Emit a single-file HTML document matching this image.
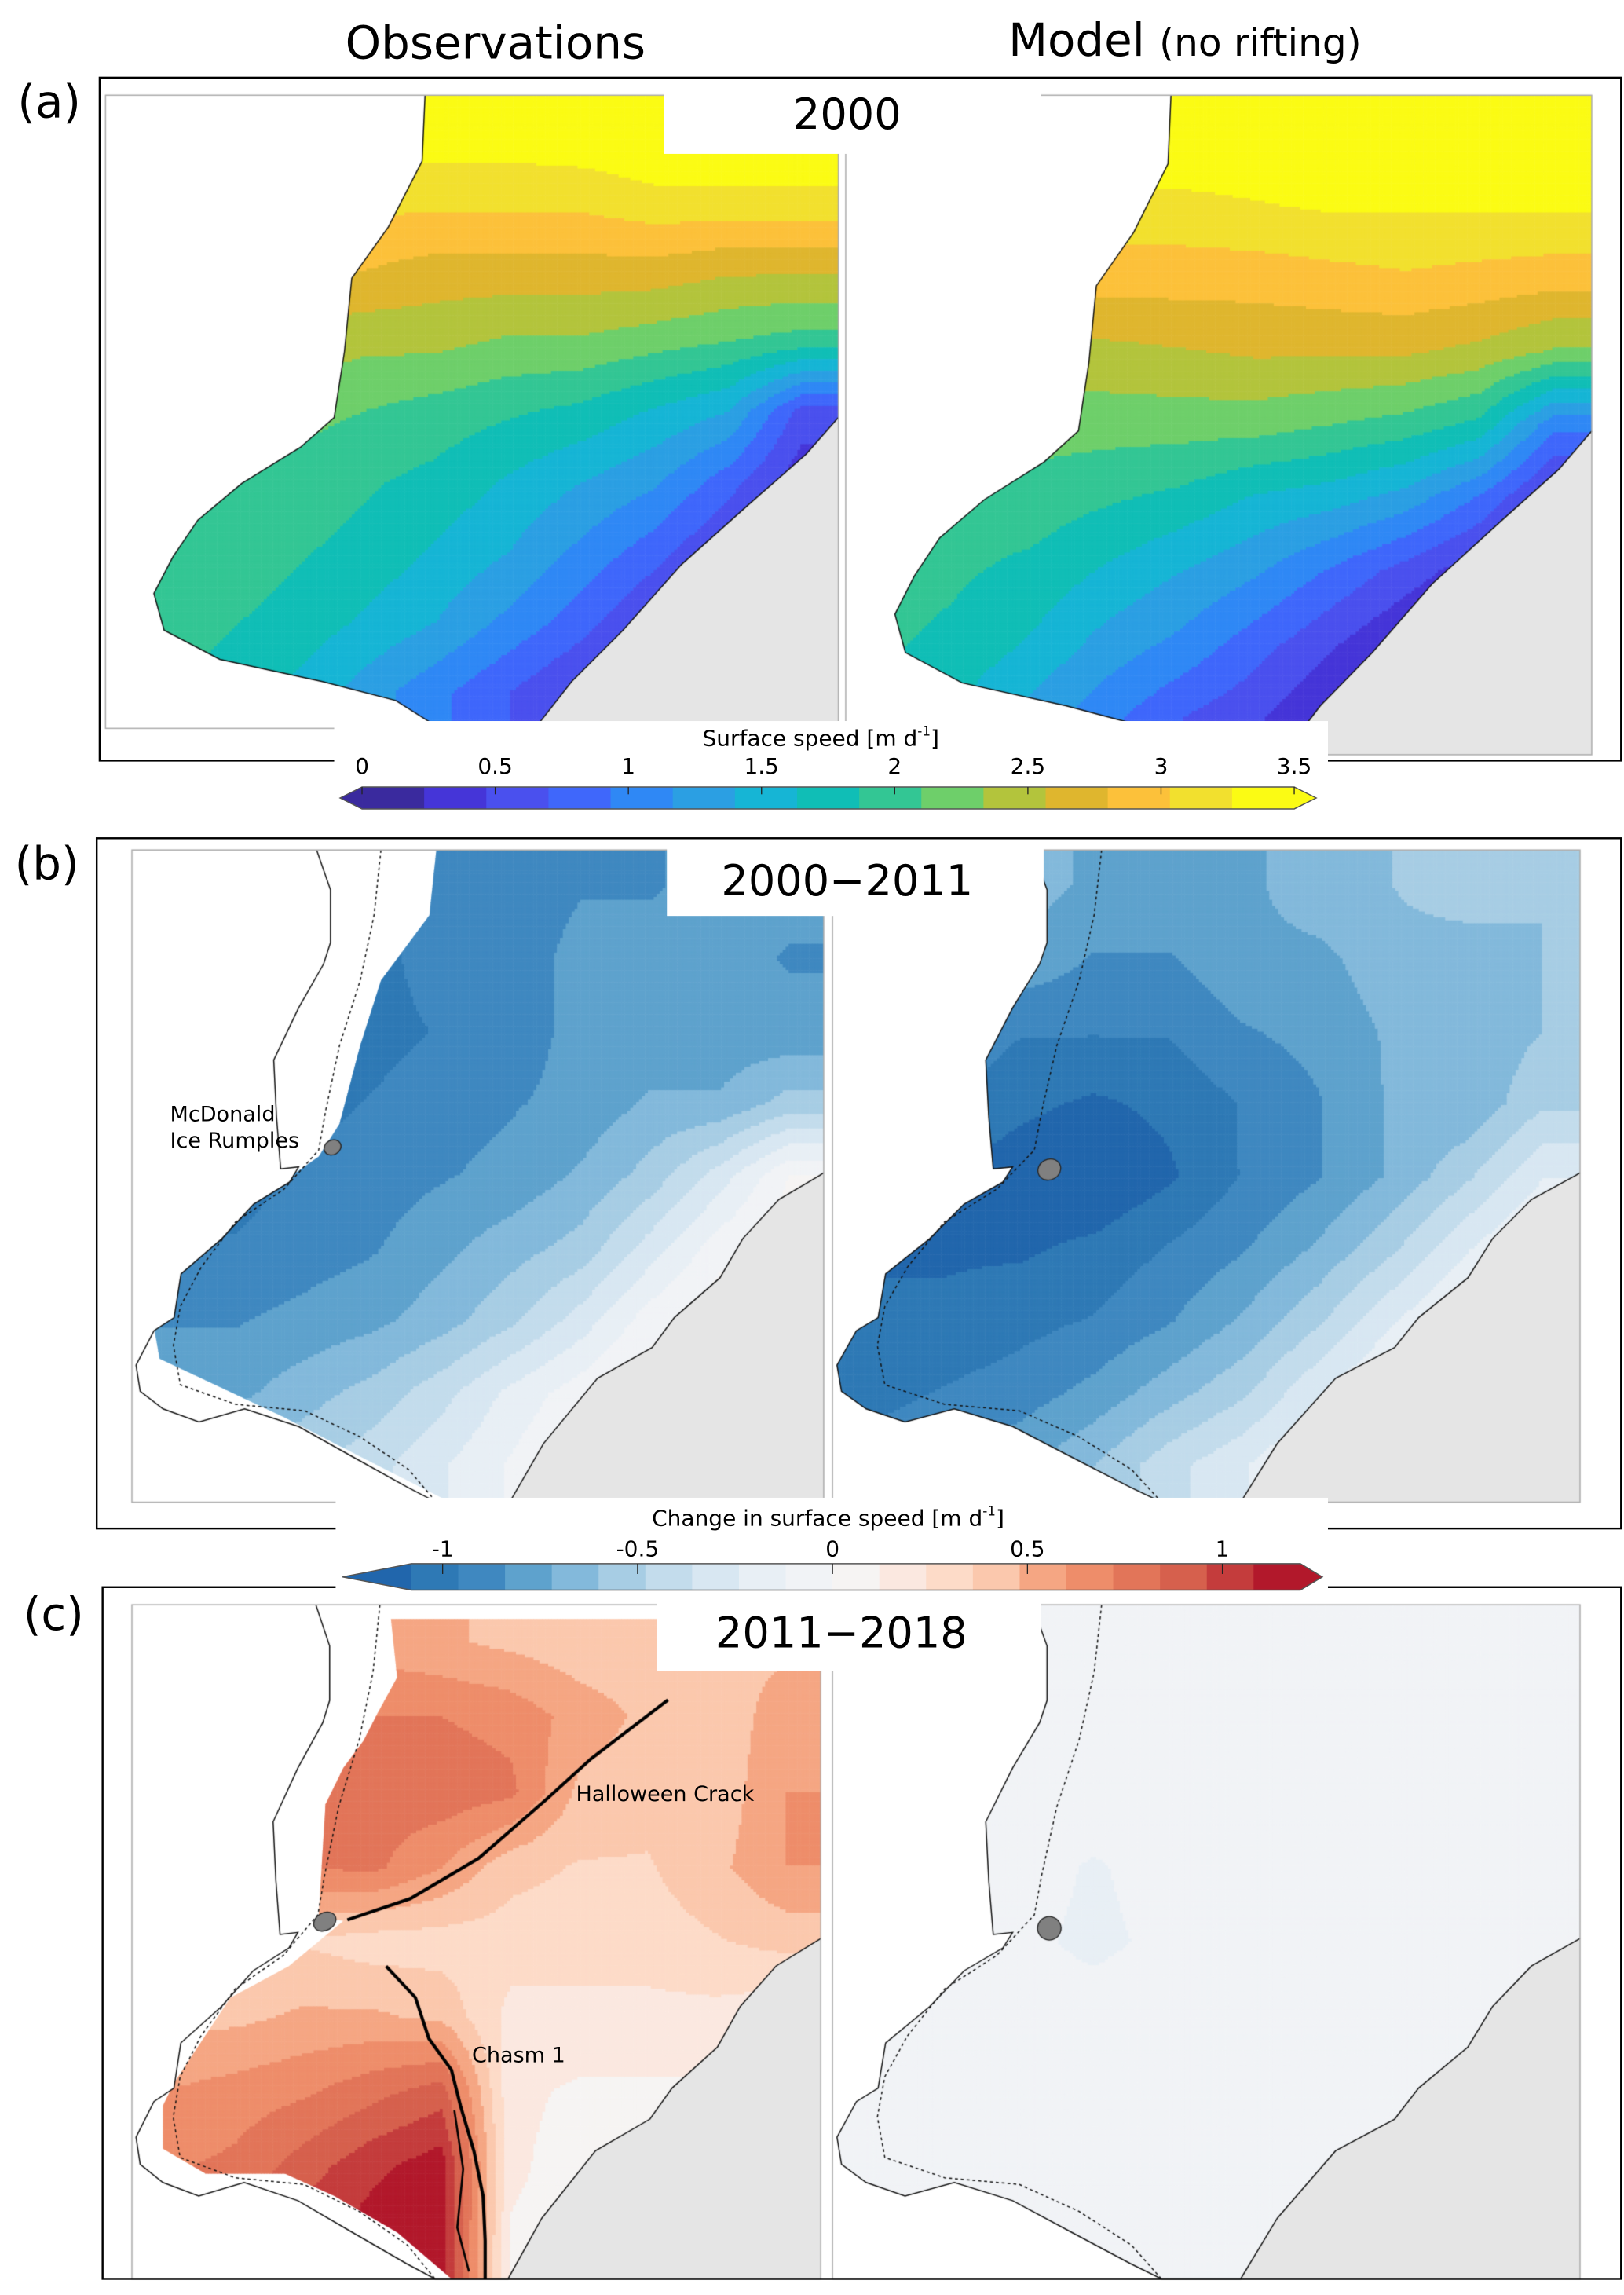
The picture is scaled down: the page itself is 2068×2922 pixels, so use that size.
<!DOCTYPE html>
<html><head><meta charset="utf-8">
<style>
html,body{margin:0;padding:0;background:#fff;}
#wrap{position:relative;width:2068px;height:2922px;overflow:hidden;}
#maps{position:absolute;left:0;top:0;}
#ov{position:absolute;left:0;top:0;}
text{font-family:"DejaVu Sans","Liberation Sans",sans-serif;fill:#000;}
</style></head>
<body>
<div id="wrap">
<canvas id="maps" width="2068" height="2922"></canvas>
<svg id="ov" width="2068" height="2922" viewBox="0 0 1108 1566" preserveAspectRatio="none">
  <text x="338" y="40" font-size="31" text-anchor="middle">Observations</text>
  <text x="688" y="38" font-size="31">Model <tspan font-size="26">(no rifting)</tspan></text>
  <rect x="68" y="53" width="1038" height="466" fill="none" stroke="#000" stroke-width="1.3"/>
  <rect x="66" y="572" width="1040" height="471" fill="none" stroke="#000" stroke-width="1.3"/>
  <rect x="70" y="1083" width="1036" height="472" fill="none" stroke="#000" stroke-width="1.3"/>
  <text x="12" y="80" font-size="31">(a)</text>
  <text x="10" y="600" font-size="31">(b)</text>
  <text x="16" y="1112" font-size="31">(c)</text>
  <rect x="453" y="55" width="257" height="50" fill="#fff"/>
  <text x="578" y="88" font-size="29" text-anchor="middle">2000</text>
  <rect x="455" y="576" width="257" height="49" fill="#fff"/>
  <text x="578" y="611" font-size="29" text-anchor="middle">2000−2011</text>
  <rect x="448" y="1090" width="262" height="50" fill="#fff"/>
  <text x="574" y="1124" font-size="29" text-anchor="middle">2011−2018</text>
  <text x="116" y="765" font-size="14.5">McDonald</text>
  <text x="116" y="783" font-size="14.5">Ice Rumples</text>
  <text x="393" y="1229" font-size="14.5">Halloween Crack</text>
  <text x="322" y="1407" font-size="14.5">Chasm 1</text>
  <g id="cbA"></g>
  <g id="cbB"></g>
</svg>
</div>
<script>
// ---------- colour scales ----------
const speedColors = ["#3a2a9e","#4535d8","#4a50ee","#3f67fb","#2f88f5","#2b9fe3","#16b5d5","#10beb6","#33c694","#6ecf6a","#b3c43c","#dfb62e","#fcc13a","#f2e02e","#fbfb14"];
const speedTicks = ["0","0.5","1","1.5","2","2.5","3","3.5"];
const speedTickValues = [0,0.5,1,1.5,2,2.5,3,3.5];
const divColors = ["#2e79b5","#3f88c0","#5ea2cd","#83b9db","#a7cde4","#c3dcec","#d8e7f2","#e8eff5","#f1f3f6","#f6f4f3","#fbe8e0","#fddbc8","#fbc8ad","#f5a683","#ee8d6a","#e27559","#d6604d","#c43c3c","#b2182b"];
const divUnder = "#2166ac", divOver = "#b2182b";
const divTicks = ["-1","-0.5","0","0.5","1"];
const divTickValues = [-1,-0.5,0,0.5,1];

// ---------- map data grids (10 cols x 9 rows) ----------
const speedObs2000 = [
 [3.4,3.4,3.4,3.4,3.4,3.4,3.45,3.5,3.5,3.5],
 [3.1,3.1,3.1,3.1,3.1,3.1,3.1,3.2,3.2,3.2],
 [2.8,2.8,2.8,2.8,2.7,2.7,2.7,2.7,2.6,2.6],
 [2.5,2.5,2.5,2.4,2.4,2.3,2.3,2.2,2.1,2.0],
 [2.3,2.3,2.2,2.1,2.0,1.9,1.8,1.6,1.4,0.6],
 [2.1,2.1,2.0,1.9,1.8,1.6,1.4,1.2,0.8,0.3],
 [2.1,2.0,1.9,1.8,1.6,1.4,1.1,0.8,0.4,0.0],
 [2.0,1.9,1.8,1.6,1.4,1.1,0.8,0.4,0.0,0.0],
 [1.9,1.8,1.6,1.3,1.0,0.7,0.4,0.1,0.0,0.0]];
const speedModel2000 = [
 [3.5,3.5,3.5,3.5,3.5,3.5,3.5,3.5,3.5,3.5],
 [3.2,3.2,3.2,3.2,3.2,3.25,3.3,3.3,3.3,3.3],
 [2.9,2.9,2.9,2.9,2.9,2.9,2.95,3.0,2.95,2.9],
 [2.5,2.5,2.5,2.5,2.55,2.6,2.6,2.6,2.5,2.3],
 [2.3,2.3,2.2,2.2,2.2,2.2,2.1,2.0,1.8,1.0],
 [2.1,2.0,2.0,1.9,1.8,1.6,1.5,1.3,0.9,0.3],
 [2.0,1.9,1.8,1.6,1.4,1.2,0.9,0.6,0.3,0.0],
 [1.9,1.8,1.6,1.3,1.1,0.8,0.5,0.2,0.0,0.0],
 [1.8,1.6,1.3,1.0,0.7,0.5,0.2,0.0,0.0,0.0]];
const changeObs0011 = [
 [-0.9,-0.9,-1.0,-1.0,-0.9,-0.9,-0.85,-0.85,-0.8,-0.8],
 [-1.0,-1.0,-1.05,-1.0,-0.9,-0.9,-0.8,-0.8,-0.8,-0.85],
 [-1.05,-1.05,-1.05,-1.0,-0.95,-0.9,-0.8,-0.8,-0.8,-0.8],
 [-1.05,-1.05,-1.0,-0.95,-0.9,-0.85,-0.8,-0.7,-0.7,-0.55],
 [-1.0,-1.0,-0.95,-0.9,-0.85,-0.8,-0.7,-0.55,-0.3,0.0],
 [-0.95,-0.95,-0.9,-0.85,-0.75,-0.65,-0.55,-0.3,-0.05,0.1],
 [-0.85,-0.85,-0.8,-0.75,-0.65,-0.5,-0.3,-0.05,0.1,0.1],
 [-0.75,-0.75,-0.65,-0.55,-0.4,-0.2,-0.05,0.1,0.1,0.1],
 [-0.6,-0.6,-0.5,-0.4,-0.25,-0.1,0.05,0.1,0.1,0.1]];
const changeModel0011 = [
 [-0.6,-0.6,-0.65,-0.75,-0.75,-0.75,-0.65,-0.6,-0.5,-0.6],
 [-0.75,-0.75,-0.75,-0.85,-0.85,-0.75,-0.75,-0.65,-0.7,-0.6],
 [-0.85,-0.85,-0.95,-0.95,-0.95,-0.85,-0.8,-0.7,-0.7,-0.6],
 [-0.95,-0.95,-1.05,-1.1,-1.05,-0.95,-0.85,-0.7,-0.7,-0.5],
 [-1.05,-1.1,-1.15,-1.2,-1.1,-0.95,-0.85,-0.7,-0.5,-0.25],
 [-1.1,-1.1,-1.1,-1.05,-0.95,-0.85,-0.7,-0.5,-0.25,-0.05],
 [-1.05,-1.05,-1.0,-0.95,-0.85,-0.7,-0.5,-0.25,-0.05,0],
 [-1.0,-0.95,-0.9,-0.8,-0.65,-0.5,-0.25,-0.05,0,0],
 [-0.9,-0.85,-0.75,-0.6,-0.4,-0.25,-0.05,0,0,0]];
const changeObs1118 = [
 [0.4,0.4,0.45,0.55,0.5,0.45,0.4,0.4,0.45,0.45],
 [0.5,0.5,0.6,0.72,0.72,0.68,0.55,0.45,0.4,0.55],
 [0.5,0.5,0.72,0.78,0.8,0.75,0.45,0.4,0.4,0.6],
 [0.5,0.5,0.72,0.75,0.6,0.4,0.35,0.35,0.45,0.6],
 [0.4,0.4,0.35,0.3,0.3,0.3,0.3,0.3,0.35,0.4],
 [0.45,0.45,0.5,0.5,0.45,0.2,0.2,0.2,0.2,0.15],
 [0.6,0.65,0.7,0.8,0.9,0.15,0.1,0.1,0.1,0.05],
 [0.7,0.75,0.9,1.05,1.15,0.15,0.05,0.05,0.05,0.0],
 [0.8,0.9,1.05,1.15,1.15,0.1,0.05,0,0,0]];
const changeModel1118 = [
 [-0.05,-0.05,-0.05,-0.05,-0.05,-0.05,-0.05,-0.05,-0.05,-0.05],
 [-0.05,-0.05,-0.05,-0.05,-0.05,-0.05,-0.05,-0.05,-0.05,-0.05],
 [-0.05,-0.05,-0.05,-0.06,-0.05,-0.05,-0.05,-0.05,-0.05,-0.05],
 [-0.05,-0.05,-0.08,-0.13,-0.08,-0.05,-0.05,-0.05,-0.05,-0.05],
 [-0.05,-0.06,-0.1,-0.14,-0.1,-0.05,-0.05,-0.05,-0.05,-0.05],
 [-0.05,-0.05,-0.08,-0.08,-0.06,-0.05,-0.05,-0.05,-0.05,-0.05],
 [-0.05,-0.05,-0.05,-0.05,-0.05,-0.05,-0.05,-0.05,-0.05,-0.05],
 [-0.05,-0.05,-0.05,-0.05,-0.05,-0.05,-0.05,-0.05,-0.05,-0.05],
 [-0.05,-0.05,-0.05,-0.05,-0.05,-0.05,-0.05,-0.05,-0.05,-0.05]];

// ---------- geometry (normalised) ----------
const shapeA = [[.436,0],[.432,.104],[.386,.208],[.336,.289],[.326,.405],[.312,.509],[.266,.556],[.186,.613],[.126,.671],[.092,.729],[.066,.787],[.08,.845],[.156,.891],[.296,.926],[.396,.956],[.456,1.0],[.586,1],[.636,.926],[.706,.845],[.786,.741],[.876,.648],[.956,.567],[1,.509],[1,0]];
const landA = [[.586,1],[.636,.926],[.706,.845],[.786,.741],[.876,.648],[.956,.567],[1,.509],[1,1]];
const shapeC = [[.267,0],[.287,.061],[.287,.142],[.277,.175],[.241,.242],[.205,.322],[.209,.409],[.215,.489],[.241,.486],[.228,.509],[.176,.543],[.130,.596],[.071,.650],[.061,.717],[.032,.737],[.006,.790],[.012,.830],[.045,.857],[.097,.877],[.163,.857],[.241,.884],[.320,.931],[.398,.977],[.44,1],[.546,1],[.595,.910],[.673,.810],[.752,.763],[.784,.717],[.850,.656],[.883,.596],[.935,.536],[.994,.499],[1,.495],[1,0]];
const landC = [[.546,1],[.595,.910],[.673,.810],[.752,.763],[.784,.717],[.850,.656],[.883,.596],[.935,.536],[.994,.499],[1,.495],[1,1]];
const maskB = [[.44,0],[.43,.1],[.36,.2],[.33,.3],[.30,.42],[.27,.47],[.15,.56],[.08,.63],[.03,.72],[.04,.78],[.12,.82],[.22,.87],[.33,.93],[.46,1],[1,1],[1,0]];
const maskC = [[.376,.021],[.385,.108],[.356,.162],[.336,.202],[.307,.242],[.281,.296],[.271,.463],[.307,.469],[.228,.536],[.143,.583],[.091,.663],[.061,.710],[.045,.743],[.045,.807],[.107,.844],[.222,.844],[.294,.877],[.385,.931],[.464,1],[1,1],[1,.021]];
const dottedC = [[.36,0],[.35,.1],[.33,.2],[.30,.3],[.28,.4],[.27,.46],[.22,.52],[.15,.57],[.10,.64],[.07,.70],[.06,.76],[.07,.82],[.15,.85],[.25,.86],[.33,.9],[.40,.95],[.44,1]];

const cv = document.getElementById('maps');
const ctx = cv.getContext('2d');
ctx.scale(2068/1108, 2922/1566);

function speedColor(v){let i=Math.floor(v/0.2333);if(i<0)i=0;if(i>14)i=14;return speedColors[i];}
function divColor(v){let i=Math.floor(v/0.12)+9;if(i<0)return divUnder;if(i>18)return divOver;return divColors[i];}
function path(F,pts){ctx.beginPath();pts.forEach((p,i)=>{const x=F.x+p[0]*F.w,y=F.y+p[1]*F.h;i?ctx.lineTo(x,y):ctx.moveTo(x,y);});}
function sample(g,u,v){
  let cx=u*10-0.5, cy=v*9-0.5;
  cx=Math.max(0,Math.min(9,cx)); cy=Math.max(0,Math.min(8,cy));
  const i0=Math.min(8,Math.floor(cx)), j0=Math.min(7,Math.floor(cy));
  const fx=cx-i0, fy=cy-j0;
  const a=g[j0][i0],b=g[j0][i0+1],c=g[j0+1][i0],d=g[j0+1][i0+1];
  return (a*(1-fx)+b*fx)*(1-fy)+(c*(1-fx)+d*fx)*fy;
}
function drawMap(F,grid,colFn,shape,land,mask,opts){
  ctx.save();
  path(F,shape);ctx.closePath();ctx.clip();
  if(mask){path(F,mask);ctx.closePath();ctx.clip();}
  const st=2;
  for(let y=F.y;y<F.y+F.h;y+=st){for(let x=F.x;x<F.x+F.w;x+=st){
    ctx.fillStyle=colFn(sample(grid,(x-F.x+1)/F.w,(y-F.y+1)/F.h));
    ctx.fillRect(x,y,st+0.3,st+0.3);}}
  ctx.restore();
  path(F,land);ctx.closePath();ctx.fillStyle="#e5e5e5";ctx.fill();
  ctx.strokeStyle="#111";ctx.lineWidth=0.8;
  const coast=shape.slice(0,shape.length-1);
  path(F,coast);ctx.stroke();
  if(opts&&opts.dotted){ctx.save();ctx.setLineDash([2,2]);path(F,dottedC);ctx.stroke();ctx.restore();}
  ctx.strokeStyle="#aaa";ctx.lineWidth=0.8;ctx.strokeRect(F.x,F.y,F.w,F.h);
  if(opts&&opts.rumple){const r=opts.rumple;ctx.beginPath();ctx.ellipse(F.x+r[0]*F.w,F.y+r[1]*F.h,r[2],r[3],-0.5,0,Math.PI*2);ctx.fillStyle="#808080";ctx.fill();ctx.strokeStyle="#222";ctx.lineWidth=0.7;ctx.stroke();}
}
const FAL={x:72,y:65,w:500,h:432}, FAR={x:577,y:65,w:509,h:450};
const FBL={x:90,y:580,w:472,h:445}, FBR={x:568,y:580,w:510,h:445};
const FCL={x:90,y:1095,w:470,h:460}, FCR={x:568,y:1095,w:510,h:460};
drawMap(FAL,speedObs2000,speedColor,shapeA,landA,null,null);
drawMap(FAR,speedModel2000,speedColor,shapeA,landA,null,null);
drawMap(FBL,changeObs0011,divColor,shapeC,landC,maskB,{dotted:true,rumple:[.29,.456,6,5]});
drawMap(FBR,changeModel0011,divColor,shapeC,landC,null,{dotted:true,rumple:[.29,.49,8,7]});
drawMap(FCL,changeObs1118,divColor,shapeC,landC,maskC,{dotted:true,rumple:[.28,.47,8,6]});
drawMap(FCR,changeModel1118,divColor,shapeC,landC,null,{dotted:true,rumple:[.29,.48,8,8]});
// cracks
function poly(pts,w){ctx.beginPath();pts.forEach((p,i)=>i?ctx.lineTo(p[0],p[1]):ctx.moveTo(p[0],p[1]));ctx.strokeStyle="#000";ctx.lineWidth=w;ctx.stroke();}
poly([[237,1310],[280,1295.5],[326.5,1268],[372.6,1228],[403.4,1200],[455.7,1160]],2.2);
poly([[263.4,1341.6],[283.4,1363],[292.6,1391],[308,1412.4],[314.2,1437],[323.4,1468],[329.6,1498.5],[331,1529],[331,1555]],2.2);
poly([[310,1440],[316,1480],[312,1520],[320,1550]],1.4);

// ---------- colorbars ----------
const NS="http://www.w3.org/2000/svg";
function el(tag,attrs,parent){const e=document.createElementNS(NS,tag);for(const k in attrs)e.setAttribute(k,attrs[k]);parent.appendChild(e);return e;}
(function(){
  const g=document.getElementById('cbA');
  const x0=247,x1=883,y0=537,y1=552;
  const sx=v=>x0+v/3.5*(x1-x0);
  const bg=el('rect',{x:228,y:492,width:678,height:66,fill:'#fff'},g);
  
  
  const t=el('text',{x:560,y:509,'font-size':15,'text-anchor':'middle'},g);
  
  
  t.innerHTML='Surface speed [m d<tspan font-size="9" dy="-7">-1</tspan><tspan dy="7">]</tspan>';
  const bw=(x1-x0)/speedColors.length;
  speedColors.forEach((c,i)=>{const r=el('rect',{x:x0+i*bw,y:y0,width:bw+0.5,height:y1-y0,fill:c},g);
    
    });
  const la=el('polygon',{points:`${x0},${y0} ${x0-15},${(y0+y1)/2} ${x0},${y1}`,fill:speedColors[0]},g);
  
  
  const ra=el('polygon',{points:`${x1},${y0} ${x1+15},${(y0+y1)/2} ${x1},${y1}`,fill:speedColors[14]},g);
  
  
  el('polygon',{points:`${x0-15},${(y0+y1)/2} ${x0},${y0} ${x1},${y0} ${x1+15},${(y0+y1)/2} ${x1},${y1} ${x0},${y1}`,fill:'none',stroke:'#555','stroke-width':0.8},g);
  speedTickValues.forEach((v,i)=>{
    el('line',{x1:sx(v),x2:sx(v),y1:y0,y2:y0+5,stroke:'#222','stroke-width':0.7},g);
    const tt=el('text',{x:sx(v),y:528,'font-size':15,'text-anchor':'middle'},g);
    
    
    tt.textContent=speedTicks[i];});
})();
(function(){
  const g=document.getElementById('cbB');
  const z=568,u=266,y0=1067,y1=1085;
  const sx=v=>z+v*u;
  const bg=el('rect',{x:229,y:1022,width:677,height:70,fill:'#fff'},g);
  
  
  const t=el('text',{x:565,y:1041,'font-size':15,'text-anchor':'middle'},g);
  
  
  t.innerHTML='Change in surface speed [m d<tspan font-size="9" dy="-7">-1</tspan><tspan dy="7">]</tspan>';
  const xa=sx(-1.08), xb=sx(1.2);
  divColors.forEach((c,i)=>{const v=-1.08+i*0.12;const r=el('rect',{x:sx(v),y:y0,width:0.12*u+0.5,height:y1-y0,fill:c},g);
    
    });
  const la=el('polygon',{points:`${xa},${y0} ${xa-47},${(y0+y1)/2} ${xa},${y1}`,fill:divUnder},g);
  
  
  const ra=el('polygon',{points:`${xb},${y0} ${xb+15},${(y0+y1)/2} ${xb},${y1}`,fill:divOver},g);
  
  
  el('polygon',{points:`${xa-47},${(y0+y1)/2} ${xa},${y0} ${xb},${y0} ${xb+15},${(y0+y1)/2} ${xb},${y1} ${xa},${y1}`,fill:'none',stroke:'#555','stroke-width':0.8},g);
  divTickValues.forEach((v,i)=>{
    el('line',{x1:sx(v),x2:sx(v),y1:y0,y2:y0+7,stroke:'#222','stroke-width':0.7},g);
    const tt=el('text',{x:sx(v),y:1062,'font-size':15,'text-anchor':'middle'},g);
    
    
    tt.textContent=divTicks[i];});
})();
</script>
</body></html>
